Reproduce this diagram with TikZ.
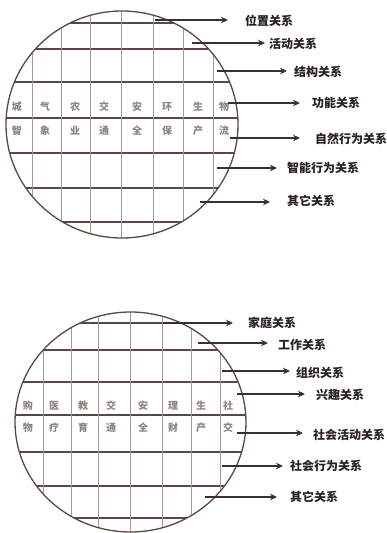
\documentclass[tikz,border=0pt]{standalone}
\usepackage{fontspec}
\newfontfamily\cjk{Noto Sans CJK SC}
\usetikzlibrary{arrows.meta}
\definecolor{rimc}{HTML}{5A4844}
\definecolor{gridc}{HTML}{A39896}
\definecolor{cellc}{HTML}{8C8482}
\definecolor{arrc}{HTML}{3A3030}
\definecolor{labc}{HTML}{2A2222}
\tikzset{
  rim/.style={draw=rimc, line width=1.3pt},
  hline/.style={draw=rimc, line width=1.1pt},
  vline/.style={draw=gridc, line width=0.7pt},
  cell/.style={font=\cjk\bfseries\fontsize{10}{10}\selectfont, text=cellc, inner sep=0pt},
  lab/.style={font=\cjk\bfseries\fontsize{12}{12}\selectfont, text=labc, anchor=west, inner sep=0pt},
  arr/.style={draw=arrc, line width=1.5pt, -{Stealth[length=7pt,width=6.5pt]}}
}
\begin{document}
\begin{tikzpicture}[x=1pt,y=-1pt]
\useasboundingbox[fill=white] (0,0) rectangle (387,533);

% ---------- top circle ----------
\begin{scope}
  \clip (122,124.5) ellipse [x radius=116pt, y radius=113.5pt];
  \foreach \yy in {23,49,82,118,153,188,222} \draw[hline] (0,\yy) -- (250,\yy);
  \foreach \xx in {32,61,90,121,153,183,213} \draw[vline] (\xx,0) -- (\xx,245);
\end{scope}
\draw[rim] (122,124.5) ellipse [x radius=116pt, y radius=113.5pt];

\foreach \t/\xx [count=\i] in {城/17,气/45,农/75,交/104,安/137,环/167,生/198,物/224}
  \node[cell] (ta\i) at (\xx,107) {\t};
\foreach \t/\xx [count=\i] in {智/17,象/45,业/75,通/104,全/137,保/167,产/198,流/224}
  \node[cell] (tb\i) at (\xx,131) {\t};

\coordinate (ts1) at (155,20);
\coordinate (ts2) at (192,43);
\coordinate (ts3) at (217,71);
\coordinate (ts4) at (228,103);
\coordinate (ts5) at (230,138);
\coordinate (ts6) at (217,168);
\coordinate (ts7) at (200,202);
\node[lab] (tl1) at (245,21) {位置关系};
\node[lab] (tl2) at (269,44) {活动关系};
\node[lab] (tl3) at (294,72) {结构关系};
\node[lab] (tl4) at (312,103) {功能关系};
\node[lab] (tl5) at (315,139) {自然行为关系};
\node[lab] (tl6) at (287,168) {智能行为关系};
\node[lab] (tl7) at (287,201) {其它关系};
\draw[arr, shorten >=17pt] (ts1) -- (ts1 -| tl1.west);
\draw[arr, shorten >=4pt]  (ts2) -- (ts2 -| tl2.west);
\draw[arr, shorten >=7pt]  (ts3) -- (ts3 -| tl3.west);
\draw[arr, shorten >=12pt] (ts4) -- (ts4 -| tl4.west);
\draw[arr, shorten >=15pt] (ts5) -- (ts5 -| tl5.west);
\draw[arr, shorten >=10pt] (ts6) -- (ts6 -| tl6.west);
\draw[arr, shorten >=17pt] (ts7) -- (ts7 -| tl7.west);

% ---------- bottom circle ----------
\begin{scope}
  \clip (130.5,422) ellipse [x radius=115.5pt, y radius=110pt];
  \foreach \yy in {323,350,382,415,452,486,518} \draw[hline] (0,\yy) -- (260,\yy);
  \foreach \xx in {43,71,98,130,162,191,220} \draw[vline] (\xx,300) -- (\xx,540);
\end{scope}
\draw[rim] (130.5,422) ellipse [x radius=115.5pt, y radius=110pt];

\foreach \t/\xx [count=\i] in {购/28,医/54,教/83,交/111,安/143,理/173,生/201,社/228}
  \node[cell] (ba\i) at (\xx,406) {\t};
\foreach \t/\xx [count=\i] in {物/28,疗/54,育/83,通/111,全/143,财/173,产/201,交/228}
  \node[cell] (bb\i) at (\xx,428) {\t};

\coordinate (bs1) at (163,323);
\coordinate (bs2) at (198,343);
\coordinate (bs3) at (222,371);
\coordinate (bs4) at (237,394);
\coordinate (bs5) at (237,433);
\coordinate (bs6) at (222,466);
\coordinate (bs7) at (205,497);
\node[lab] (bl1) at (248,323) {家庭关系};
\node[lab] (bl2) at (278,345) {工作关系};
\node[lab] (bl3) at (296,373) {组织关系};
\node[lab] (bl4) at (316,395) {兴趣关系};
\node[lab] (bl5) at (313,435) {社会活动关系};
\node[lab] (bl6) at (290,466) {社会行为关系};
\node[lab] (bl7) at (290,497) {其它关系};
\draw[arr, shorten >=15pt] (bs1) -- (bs1 -| bl1.west);
\draw[arr, shorten >=10pt] (bs2) -- (bs2 -| bl2.west);
\draw[arr, shorten >=6pt]  (bs3) -- (bs3 -| bl3.west);
\draw[arr, shorten >=11pt] (bs4) -- (bs4 -| bl4.west);
\draw[arr, shorten >=10pt] (bs5) -- (bs5 -| bl5.west);
\draw[arr, shorten >=7pt]  (bs6) -- (bs6 -| bl6.west);
\draw[arr, shorten >=13pt] (bs7) -- (bs7 -| bl7.west);
\end{tikzpicture}
\end{document}
